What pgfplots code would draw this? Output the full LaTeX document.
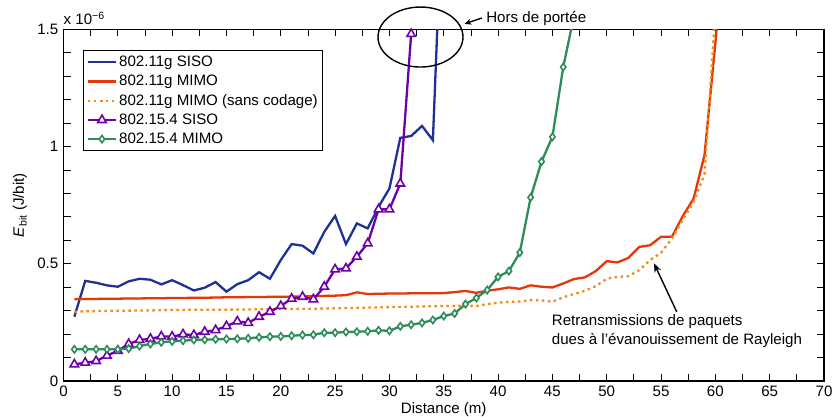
\documentclass[border=0pt]{standalone}
\usepackage{pgfplots}
\pgfplotsset{compat=1.18}
\usepackage{fontspec}
\setmainfont{Liberation Sans}
\usetikzlibrary{calc,arrows.meta}
\definecolor{cblue}{RGB}{30,50,150}
\definecolor{cred}{RGB}{228,55,10}
\definecolor{corange}{RGB}{240,140,30}
\definecolor{cpurple}{RGB}{110,0,170}
\definecolor{cgreen}{RGB}{45,140,90}
\newcommand{\fs}{\fontsize{15.1bp}{17.5bp}\selectfont}
\begin{document}
\fs
\begin{tikzpicture}
\begin{axis}[name=ax, scale only axis, width=760.5bp, height=351.7bp,
  xmin=0, xmax=70, ymin=0, ymax=1.5,
  xtick={0,5,...,70}, ytick={0,0.5,1,1.5},
  minor x tick num=1, minor y tick num=4,
  tick align=inside, major tick length=7bp, minor tick length=7bp,
  axis line style={line width=1.1bp},
  every tick/.style={line width=0.8bp, black},
  /pgf/number format/assume math mode=true,
  tick label style={font=\fs},
  label style={font=\fs},
  xlabel={Distance (m)},
  ylabel={\textit{E}\textsubscript{bit} (J/bit)},
  xlabel style={yshift=5bp},
  legend cell align=left,
  legend style={at={(rel axis cs:0.026,0.94)}, anchor=north west, draw=black, line width=1.1bp,
    font=\fs, inner xsep=3bp, inner ysep=3bp, row sep=2.3bp},
  legend image code/.code={\draw[mark repeat=2,mark phase=2,#1] plot coordinates {(0bp,0bp) (14bp,0bp) (28bp,0bp)};},
]
\addplot[cblue, line width=2.3bp] coordinates {
(1,0.274)(2,0.427)(3,0.419)(4,0.408)(5,0.402)(6,0.425)(7,0.436)(8,0.432)(9,0.412)(10,0.430)
(11,0.409)(12,0.386)(13,0.398)(14,0.422)(15,0.381)(16,0.413)(17,0.430)(18,0.464)(19,0.436)(20,0.516)
(21,0.584)(22,0.577)(23,0.544)(24,0.636)(25,0.704)(26,0.584)(27,0.672)(28,0.651)(29,0.743)(30,0.821)
(31,1.037)(32,1.045)(33,1.088)(34,1.027)(35,2.2)};
\addlegendentry{802.11g SISO}
\addplot[cred, line width=2.3bp] coordinates {
(1,0.349)(2,0.350)(3,0.350)(4,0.351)(5,0.351)(6,0.352)(7,0.352)(8,0.353)(9,0.353)(10,0.354)
(11,0.354)(12,0.355)(13,0.355)(14,0.356)(15,0.357)(16,0.357)(17,0.358)(18,0.358)(19,0.359)(20,0.359)
(21,0.360)(22,0.361)(23,0.362)(24,0.363)(25,0.364)(26,0.366)(27,0.378)(28,0.371)(29,0.372)(30,0.373)
(31,0.373)(32,0.374)(33,0.374)(34,0.374)(35,0.375)(36,0.379)(37,0.384)(38,0.376)(39,0.385)(40,0.391)
(41,0.399)(42,0.393)(43,0.408)(44,0.402)(45,0.399)(46,0.416)(47,0.435)(48,0.442)(49,0.469)(50,0.511)
(51,0.506)(52,0.525)(53,0.572)(54,0.579)(55,0.615)(56,0.615)(57,0.703)(58,0.778)(59,0.963)(60,1.44)(61,2.0)};
\addlegendentry{802.11g MIMO}
\addplot[corange, line width=2.3bp, dash pattern=on 2.5bp off 3.5bp] coordinates {
(1,0.294)(2,0.298)(3,0.298)(4,0.299)(5,0.300)(6,0.300)(7,0.301)(8,0.301)(9,0.302)(10,0.303)
(11,0.303)(12,0.304)(13,0.304)(14,0.304)(15,0.304)(16,0.305)(17,0.305)(18,0.306)(19,0.306)(20,0.307)
(21,0.307)(22,0.308)(23,0.308)(24,0.309)(25,0.310)(26,0.311)(27,0.312)(28,0.313)(29,0.314)(30,0.315)
(31,0.316)(32,0.317)(33,0.318)(34,0.319)(35,0.320)(36,0.320)(37,0.321)(38,0.320)(39,0.328)(40,0.334)
(41,0.338)(42,0.339)(43,0.345)(44,0.344)(45,0.338)(46,0.357)(47,0.371)(48,0.385)(49,0.405)(50,0.436)
(51,0.444)(52,0.447)(53,0.473)(54,0.516)(55,0.547)(56,0.608)(57,0.686)(58,0.764)(59,0.88)(60,1.58)};
\addlegendentry{802.11g MIMO (sans codage)}
\addplot[cpurple, line width=2.3bp, mark=triangle*, mark size=4.9bp, mark options={fill=white, solid, line width=1.6bp}] coordinates {
(1,0.071)(2,0.078)(3,0.085)(4,0.108)(5,0.129)(6,0.158)(7,0.175)(8,0.180)(9,0.190)(10,0.189)
(11,0.199)(12,0.196)(13,0.210)(14,0.217)(15,0.234)(16,0.254)(17,0.248)(18,0.274)(19,0.295)(20,0.320)
(21,0.351)(22,0.359)(23,0.348)(24,0.402)(25,0.476)(26,0.480)(27,0.530)(28,0.587)(29,0.732)(30,0.732)
(31,0.842)(32,1.48)};
\addlegendentry{802.15.4 SISO}
\addplot[cgreen, line width=2.3bp, mark=diamond*, mark size=3.6bp, mark options={fill=white, solid, line width=1.6bp}] coordinates {
(1,0.135)(2,0.135)(3,0.135)(4,0.135)(5,0.135)(6,0.138)(7,0.149)(8,0.158)(9,0.165)(10,0.169)
(11,0.172)(12,0.175)(13,0.176)(14,0.178)(15,0.179)(16,0.180)(17,0.182)(18,0.186)(19,0.189)(20,0.190)
(21,0.193)(22,0.196)(23,0.197)(24,0.206)(25,0.206)(26,0.209)(27,0.210)(28,0.212)(29,0.216)(30,0.214)
(31,0.233)(32,0.240)(33,0.248)(34,0.260)(35,0.277)(36,0.288)(37,0.328)(38,0.354)(39,0.388)(40,0.444)
(41,0.469)(42,0.548)(43,0.783)(44,0.936)(45,1.041)(46,1.339)(47,1.56)};
\addlegendentry{802.15.4 MIMO}
\coordinate (ellc) at (axis cs:32.86,1.467);
\coordinate (hpt) at (axis cs:38.9,1.548);
\coordinate (hpa) at (axis cs:38.5,1.548);
\coordinate (hpb) at (axis cs:36.9,1.523);
\coordinate (rlt) at (axis cs:44.94,0.211);
\coordinate (rla) at (axis cs:56.44,0.2956);
\coordinate (rlb) at (axis cs:54.35,0.502);
\end{axis}
\node[anchor=south west, inner sep=0pt] at ($(ax.north west)+(0bp,4bp)$) {x 10\textsuperscript{−6}};
\draw[line width=1.4bp] (ellc) ellipse [x radius=42.5bp, y radius=30bp];
\node[anchor=west, inner sep=0pt] at (hpt) {Hors de portée};
\draw[line width=1.4bp, -{Stealth[length=7bp,width=6bp]}] (hpa) -- (hpb);
\node[anchor=west, inner sep=0pt, align=left, font=\fontsize{15.1bp}{19bp}\selectfont] at (rlt) {Retransmissions de paquets\\dues à l’évanouissement de Rayleigh};
\draw[line width=1.4bp, -{Stealth[length=9bp,width=7bp]}] (rla) -- (rlb);
\pgfresetboundingbox
\path[use as bounding box] ($(ax.south west)+(-63.5bp,-36bp)$) rectangle ($(ax.north east)+(10bp,29.3bp)$);
\end{tikzpicture}
\end{document}
